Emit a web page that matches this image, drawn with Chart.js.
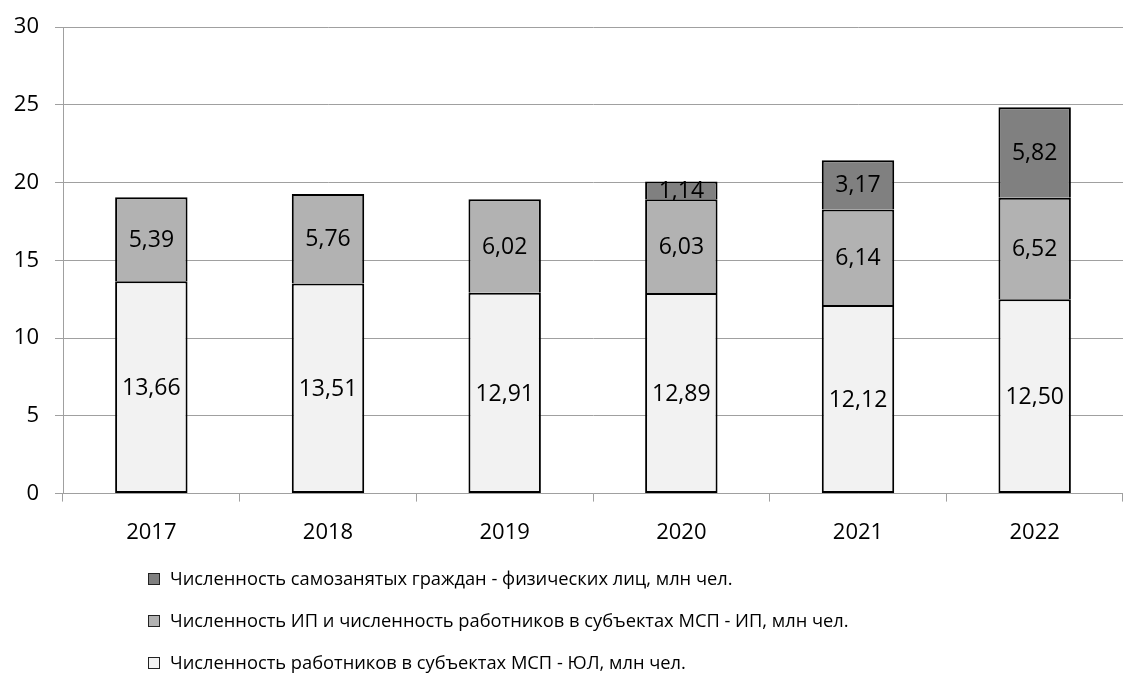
<!DOCTYPE html>
<html>
<head>
<meta charset="utf-8">
<script src="https://cdn.jsdelivr.net/npm/chart.js@4"></script>
<style>
  body { margin: 0; background: #fff; font-family: "Open Sans", sans-serif; }
  #wrap { width: 1123px; height: 690px; position: relative; }
  #legend { position: absolute; left: 148px; top: 562px; }
  .item { height: 42px; line-height: 32px; font-size: 18.3px; color: #000; display: flex; align-items: flex-start; }
  .box { width: 10px; height: 10px; border: 1px solid #222; margin: 11px 10px 0 0; flex: none; }
</style>
</head>
<body>
<div id="wrap">
  <canvas id="myChart" width="1123" height="565"></canvas>
  <div id="legend"></div>
</div>
<script>
// данные
var years = ['2017', '2018', '2019', '2020', '2021', '2022'];
var yurLica = [13.66, 13.51, 12.91, 12.89, 12.12, 12.50];
var ip = [5.39, 5.76, 6.02, 6.03, 6.14, 6.52];
var samozanyatye = [null, null, null, 1.14, 3.17, 5.82];
var yTicks = [0, 5, 10, 15, 20, 25, 30];

var names = [
    'Численность работников в субъектах МСП - ЮЛ, млн чел.',
    'Численность ИП и численность работников в субъектах МСП - ИП, млн чел.',
    'Численность самозанятых граждан - физических лиц, млн чел.'
];
var colors = ['#f2f2f2', '#b2b2b2', '#808080'];

// подписи значений внутри столбцов
var valueLabels = {
    id: 'valueLabels',
    afterDatasetsDraw: function(chart) {
        var ctx = chart.ctx;
        ctx.save();
        ctx.font = '23px "Open Sans"';
        ctx.fillStyle = '#000';
        ctx.textAlign = 'center';
        ctx.textBaseline = 'middle';
        chart.data.datasets.forEach(function(ds, i) {
            chart.getDatasetMeta(i).data.forEach(function(bar, j) {
                var v = ds.data[j];
                if (v == null) return;
                ctx.fillText(v.toFixed(2).replace('.', ','), bar.x, (bar.y + bar.base) / 2 + 1);
            });
        });
        ctx.restore();
    }
};

var ctx = document.getElementById('myChart').getContext('2d');
var myChart = new Chart(ctx, {
    type: 'bar',
    data: {
        labels: years,
        datasets: [yurLica, ip, samozanyatye].map(function(d, i) {
            return {
                label: names[i],
                data: d,
                backgroundColor: colors[i],
                borderColor: '#000',
                // нижняя граница только у нижнего ряда, чтобы не было двойных линий
                borderWidth: i === 0 ? 2 : { top: 2, left: 2, right: 2, bottom: 0 },
                borderSkipped: false,
                categoryPercentage: 1,
                barPercentage: 0.41
            };
        })
    },
    options: {
        responsive: false,
        animation: false,
        layout: { padding: { top: 15, right: 0, left: 2, bottom: 1 } },
        plugins: { legend: { display: false }, tooltip: { enabled: false } },
        scales: {
            x: {
                stacked: true,
                grid: { drawOnChartArea: false, drawTicks: true, tickLength: 8, color: '#a0a0a0' },
                border: { color: '#a0a0a0' },
                ticks: { color: '#000', font: { family: 'Open Sans', size: 22 }, padding: 18 }
            },
            y: {
                stacked: true,
                min: 0,
                max: 30,
                afterBuildTicks: function(axis) {
                    axis.ticks = yTicks.map(function(v) { return { value: v }; });
                },
                afterFit: function(axis) { axis.width = 61; },
                grid: { color: '#a0a0a0', tickLength: 8 },
                border: { color: '#a0a0a0' },
                ticks: { color: '#000', font: { family: 'Open Sans', size: 22, lineHeight: 1 }, padding: 16 }
            }
        }
    },
    plugins: [valueLabels]
});

// легенда (в обратном порядке, как в оригинале)
var legend = document.getElementById('legend');
for (var i = names.length - 1; i >= 0; i--) {
    var row = document.createElement('div');
    row.className = 'item';
    row.innerHTML = '<span class="box" style="background:' + colors[i] + '"></span><span>' + names[i] + '</span>';
    legend.appendChild(row);
}
</script>
</body>
</html>
